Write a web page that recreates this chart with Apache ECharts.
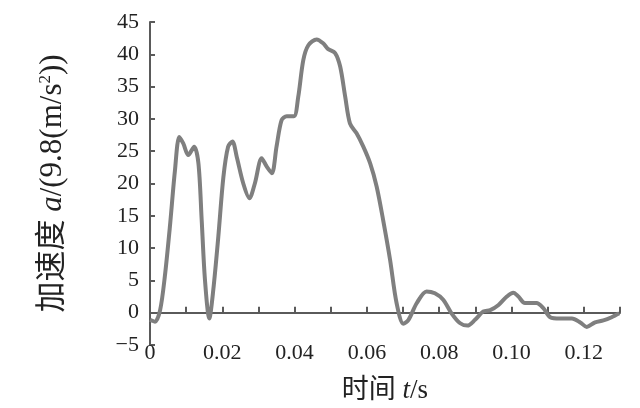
<!DOCTYPE html>
<html>
<head>
<meta charset="utf-8">
<script src="https://cdn.jsdelivr.net/npm/echarts@6/dist/echarts.min.js"></script>
<style>
  html, body { margin: 0; padding: 0; background: #fff; }
  #main { width: 640px; height: 408px; }
</style>
</head>
<body>
<div id="main"></div>
<script>
// 时间 t/s
var timeS = [0, 0.0014, 0.0028, 0.0041, 0.0055, 0.0069, 0.0081, 0.0092, 0.0106, 0.0122, 0.0134, 0.0143, 0.0152, 0.0164,
  0.0175, 0.0189, 0.0203, 0.0216, 0.0228, 0.024, 0.0258, 0.0275, 0.029, 0.0309, 0.0323, 0.0337, 0.035, 0.0364,
  0.0378, 0.0398, 0.041, 0.0424, 0.0438, 0.0461, 0.0479, 0.0493, 0.0512, 0.0526, 0.054, 0.0553, 0.0571, 0.059,
  0.0609, 0.0627, 0.0645, 0.0664, 0.0682, 0.0701, 0.0715, 0.0738, 0.0765, 0.0788, 0.0811, 0.0834, 0.0857, 0.0878,
  0.0899, 0.0922, 0.0941, 0.0964, 0.0987, 0.1005, 0.1019, 0.1037, 0.1069, 0.1088, 0.1107, 0.1134, 0.1167, 0.119,
  0.1208, 0.1231, 0.1254, 0.1277, 0.1298];
// 加速度 a/(9.8 m/s²)
var accelG = [-1.1, -1.4, 0.4, 5.6, 13.3, 22, 27.2, 26.2, 24.4, 25.7, 23.1, 14.3, 5.1, -0.9,
  3.5, 11.8, 21, 25.7, 26.5, 24.1, 20, 17.7, 20, 23.9, 22.6, 21.6, 25.7, 29.8,
  30.4, 30.4, 33.4, 39.1, 41.4, 42.3, 41.7, 40.8, 40.2, 38.1, 33.4, 29.3, 27.8, 25.7,
  23.1, 19.5, 14.3, 8.2, 1.5, -1.7, -1.1, 1.5, 3.3, 3.0, 2.0, -0.1, -1.6, -2.0,
  -1.1, 0.2, 0.4, 1.2, 2.5, 3.1, 2.5, 1.5, 1.5, 0.7, -0.7, -0.9, -0.9, -1.5,
  -2.2, -1.5, -1.2, -0.7, -0.1];
var yTicks = { min: -5, max: 45, step: 5 };
var xTicks = { min: 0, max: 0.13, step: 0.01 };

var serif = '"Liberation Serif", "Noto Sans CJK SC", serif';
var axisGray = '#5a5a5a';

var points = timeS.map(function (t, i) { return [t, accelG[i]]; });

var chart = echarts.init(document.getElementById('main'));
chart.setOption({
  backgroundColor: '#fff',
  animation: false,
  grid: { left: 150, right: 20, top: 22, bottom: 63, outerBoundsMode: 'none', containLabel: false },
  xAxis: {
    type: 'value',
    min: xTicks.min,
    max: xTicks.max,
    interval: xTicks.step,
    name: '时间 {i|t}/s',
    nameLocation: 'middle',
    nameGap: 32,
    nameTextStyle: {
      fontFamily: serif, fontSize: 27, color: '#222',
      rich: { i: { fontFamily: serif, fontStyle: 'italic', fontSize: 27, color: '#222' } }
    },
    axisLine: { onZero: true, lineStyle: { color: axisGray, width: 2 } },
    axisTick: { show: true, inside: true, length: 6, lineStyle: { color: axisGray, width: 2 } },
    splitLine: { show: false },
    axisLabel: {
      margin: -3,
      fontFamily: serif, fontSize: 22, color: '#222',
      formatter: function (v) {
        var k = Math.round(v * 100);
        if (k % 2) return '';
        return k === 0 ? '0' : v.toFixed(2);
      }
    }
  },
  yAxis: {
    type: 'value',
    min: yTicks.min,
    max: yTicks.max,
    interval: yTicks.step,
    name: '加速度 {i|a}/(9.8(m/s{s|2}))',
    nameLocation: 'middle',
    nameRotate: 90,
    nameGap: 82,
    nameTextStyle: {
      fontFamily: serif, fontSize: 31, color: '#222',
      rich: {
        i: { fontFamily: serif, fontStyle: 'italic', fontSize: 31, color: '#222' },
        s: { fontFamily: serif, fontSize: 17, color: '#222', verticalAlign: 'top', padding: [0, 0, 10, 0] }
      }
    },
    axisLine: { show: true, lineStyle: { color: axisGray, width: 2 } },
    axisTick: { show: true, inside: true, length: 5, lineStyle: { color: axisGray, width: 2 } },
    splitLine: { show: false },
    axisLabel: {
      margin: 11,
      fontFamily: serif, fontSize: 22, color: '#222',
      formatter: function (v) { return v < 0 ? '\u2212' + Math.abs(v) : String(v); }
    }
  },
  series: [{
    type: 'line',
    data: points,
    smooth: 0.3,
    showSymbol: false,
    lineStyle: { color: '#7f7f7f', width: 4 }
  }]
});
</script>
</body>
</html>
